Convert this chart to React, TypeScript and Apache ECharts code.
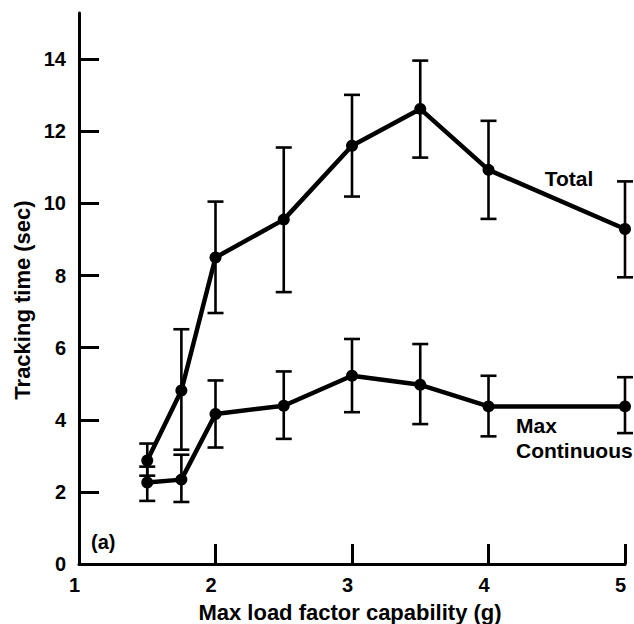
import React, { useEffect, useRef } from "react";
import * as echarts from "echarts";

const loadFactor = [1.5, 1.75, 2, 2.5, 3, 3.5, 4, 5];
const totalMean = [2.87, 4.81, 8.5, 9.55, 11.6, 12.62, 10.93, 9.29];
const totalHigh = [3.34, 6.51, 10.05, 11.55, 13.01, 13.96, 12.29, 10.61];
const totalLow = [2.45, 3.17, 6.96, 7.54, 10.19, 11.27, 9.57, 7.95];
const maxContMean = [2.26, 2.34, 4.16, 4.39, 5.22, 4.97, 4.37, 4.37];
const maxContHigh = [2.7, 3.03, 5.09, 5.34, 6.24, 6.1, 5.22, 5.18];
const maxContLow = [1.75, 1.72, 3.23, 3.47, 4.21, 3.88, 3.54, 3.63];
const xTicks = [1, 2, 3, 4, 5];
const yTicks = [0, 2, 4, 6, 8, 10, 12, 14];

const FONT = "'Liberation Sans', Arial, Helvetica, sans-serif";

function errorSeries(name: string, low: number[], high: number[]) {
  return {
    type: "custom",
    name,
    data: loadFactor.map((x, i) => [x, low[i], high[i]]),
    encode: { x: 0, y: [1, 2] },
    z: 3,
    renderItem: (params: any, api: any) => {
      const x = api.value(0);
      const lo = api.coord([x, api.value(1)]);
      const hi = api.coord([x, api.value(2)]);
      const hw = 8;
      const style = { stroke: "#000", lineWidth: 2.6, fill: "none" };
      return {
        type: "group",
        children: [
          { type: "line", shape: { x1: lo[0], y1: lo[1], x2: hi[0], y2: hi[1] }, style },
          { type: "line", shape: { x1: hi[0] - hw, y1: hi[1], x2: hi[0] + hw, y2: hi[1] }, style },
          { type: "line", shape: { x1: lo[0] - hw, y1: lo[1], x2: lo[0] + hw, y2: lo[1] }, style },
        ],
      };
    },
  };
}

function lineSeries(name: string, values: number[]) {
  return {
    type: "line",
    name,
    data: loadFactor.map((x, i) => [x, values[i]]),
    symbol: "circle",
    symbolSize: 12,
    z: 4,
    lineStyle: { color: "#000", width: 4.5 },
    itemStyle: { color: "#000" },
  };
}

export default function App() {
  const ref = useRef<HTMLDivElement>(null);
  useEffect(() => {
    if (!ref.current) return;
    const chart = echarts.init(ref.current, null, { renderer: "svg" });
    const labelStyle = { color: "#000", fontFamily: FONT, fontWeight: "bold" as const, fontSize: 20 };
    chart.setOption({
      animation: false,
      backgroundColor: "#fff",
      grid: { left: 79, right: 9, top: 13, bottom: 60, containLabel: false },
      xAxis: {
        type: "value",
        min: 1,
        max: 5,
        interval: 1,
        axisLine: { show: true, lineStyle: { color: "#000", width: 3 } },
        axisTick: { show: true, inside: true, length: 20, lineStyle: { color: "#000", width: 3 }, customValues: xTicks },
        axisLabel: { ...labelStyle, margin: 11, padding: [0, 9, 0, 0], customValues: xTicks },
        splitLine: { show: false },
      },
      yAxis: {
        type: "value",
        min: 0,
        max: 15.28,
        axisLine: { show: true, lineStyle: { color: "#000", width: 3 } },
        axisTick: { show: true, inside: true, length: 20, lineStyle: { color: "#000", width: 3 }, customValues: yTicks },
        axisLabel: { ...labelStyle, margin: 13, padding: [9, 0, 0, 0], customValues: yTicks },
        splitLine: { show: false },
      },
      graphic: [
        { type: "text", x: 350, y: 612, style: { text: "Max load factor capability (g)", ...labelStyle, fill: "#000", fontSize: 22, align: "center", verticalAlign: "middle" } },
        { type: "text", x: 22, y: 300, rotation: Math.PI / 2, style: { text: "Tracking time (sec)", ...labelStyle, fill: "#000", fontSize: 22, align: "center", verticalAlign: "middle" } },
        { type: "text", x: 569, y: 178, style: { text: "Total", ...labelStyle, fill: "#000", fontSize: 21, align: "center", verticalAlign: "middle" } },
        { type: "text", x: 516, y: 425, style: { text: "Max", ...labelStyle, fill: "#000", fontSize: 21, align: "left", verticalAlign: "middle" } },
        { type: "text", x: 516, y: 450, style: { text: "Continuous", ...labelStyle, fill: "#000", fontSize: 21, align: "left", verticalAlign: "middle" } },
        { type: "text", x: 91, y: 542, style: { text: "(a)", ...labelStyle, fill: "#000", fontSize: 20, align: "left", verticalAlign: "middle" } },
      ],
      series: [
        errorSeries("Total error", totalLow, totalHigh),
        errorSeries("Max Continuous error", maxContLow, maxContHigh),
        lineSeries("Total", totalMean),
        lineSeries("Max Continuous", maxContMean),
      ],
    });
    return () => chart.dispose();
  }, []);
  return <div ref={ref} style={{ position: "fixed", left: 0, top: 0, width: 634, height: 624 }} />;
}
